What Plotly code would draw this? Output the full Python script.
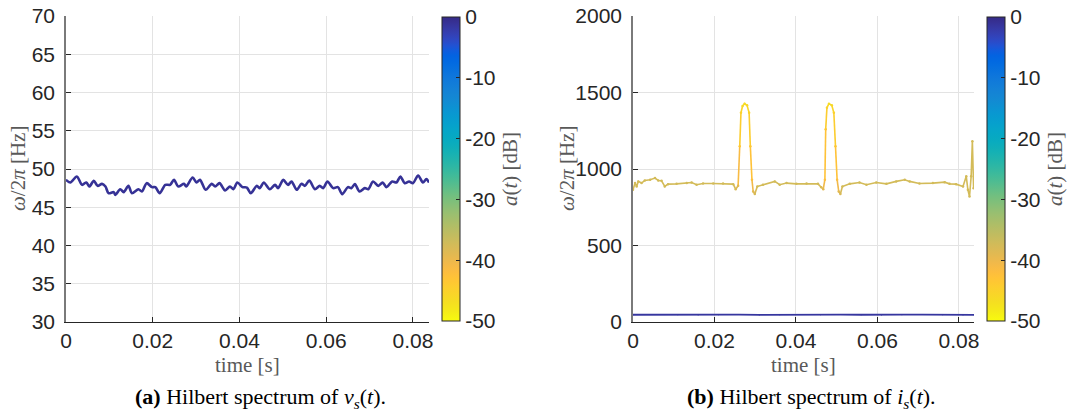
import plotly.graph_objects as go
from plotly.colors import sample_colorscale

# ---------------------------------------------------------------- data
# (a) instantaneous frequency of v_s(t)
v_time = [0.0000, 0.0010, 0.0025, 0.0037, 0.0047, 0.0054, 0.0064, 0.0073, 0.0083, 0.0091,
          0.0098, 0.0110, 0.0114, 0.0125, 0.0133, 0.0144, 0.0152, 0.0167, 0.0175, 0.0186,
          0.0198, 0.0206, 0.0216, 0.0229, 0.0240, 0.0249, 0.0259, 0.0272, 0.0277, 0.0292,
          0.0301, 0.0309, 0.0322, 0.0336, 0.0344, 0.0354, 0.0367, 0.0378, 0.0386, 0.0395,
          0.0407, 0.0417, 0.0426, 0.0440, 0.0447, 0.0456, 0.0470, 0.0482, 0.0489, 0.0501,
          0.0512, 0.0520, 0.0532, 0.0543, 0.0551, 0.0561, 0.0574, 0.0585, 0.0593, 0.0603,
          0.0616, 0.0627, 0.0637, 0.0650, 0.0658, 0.0666, 0.0677, 0.0689, 0.0697, 0.0708,
          0.0720, 0.0730, 0.0739, 0.0752, 0.0762, 0.0771, 0.0781, 0.0791, 0.0800, 0.0812,
          0.0823, 0.0831, 0.0837]
v_freq = [48.58, 48.24, 49.02, 47.93, 48.24, 47.71, 48.45, 47.80, 48.06, 47.71,
          46.84, 46.97, 46.62, 47.36, 46.97, 47.80, 46.84, 47.36, 47.06, 48.15,
          47.63, 47.63, 46.84, 47.93, 47.93, 48.58, 47.71, 48.06, 47.71, 48.89,
          48.24, 48.58, 47.28, 48.06, 47.71, 48.15, 47.19, 47.71, 47.36, 48.24,
          47.63, 47.58, 46.84, 47.80, 47.50, 48.24, 47.36, 47.93, 47.50, 48.58,
          47.93, 48.37, 47.28, 48.06, 47.80, 48.50, 47.36, 47.80, 47.50, 48.37,
          47.50, 47.63, 46.71, 47.63, 47.50, 48.02, 47.06, 47.50, 47.36, 48.37,
          47.80, 48.24, 47.63, 48.37, 48.24, 49.02, 48.15, 48.37, 48.15, 49.15,
          48.24, 48.67, 48.24]
v_amp = [-1.0] * len(v_time)

# (b) instantaneous frequency of i_s(t): fundamental component
i1_time = [0.0000, 0.0060, 0.0110, 0.0160, 0.0210, 0.0260, 0.0310, 0.0360, 0.0410,
           0.0460, 0.0510, 0.0560, 0.0610, 0.0660, 0.0710, 0.0760, 0.0810, 0.0837]
i1_freq = [47.5, 48.5, 47.0, 45.5, 47.5, 48.5, 46.5, 48.0, 48.5,
           47.0, 48.5, 47.5, 45.5, 48.0, 48.5, 47.0, 45.5, 47.0]
i1_amp = [-1.5] * len(i1_time)

# (b) instantaneous frequency of i_s(t): high-frequency component
i2_time = [0.0000, 0.0005, 0.0009, 0.0013, 0.0021, 0.0029, 0.0042, 0.0054, 0.0062, 0.0070,
           0.0078, 0.0086, 0.0107, 0.0132, 0.0144, 0.0156, 0.0172, 0.0197, 0.0221, 0.0246,
           0.0252, 0.0258, 0.0262, 0.0265, 0.0269, 0.0274, 0.0280, 0.0285, 0.0288, 0.0292,
           0.0295, 0.0299, 0.0305, 0.0319, 0.0348, 0.0360, 0.0377, 0.0401, 0.0426, 0.0454,
           0.0462, 0.0467, 0.0471, 0.0473, 0.0476, 0.0481, 0.0488, 0.0493, 0.0497, 0.0501,
           0.0505, 0.0509, 0.0514, 0.0532, 0.0556, 0.0573, 0.0597, 0.0622, 0.0646, 0.0667,
           0.0679, 0.0703, 0.0736, 0.0765, 0.0777, 0.0793, 0.0810, 0.0818, 0.0822, 0.0826,
           0.0830, 0.0833, 0.0836]
i2_freq = [864, 908, 886, 919, 908, 925, 930, 941, 925, 923,
           886, 901, 903, 908, 912, 897, 905, 905, 905, 901,
           868, 890, 1149, 1368, 1412, 1427, 1416, 1368, 1149, 930,
           853, 837, 886, 897, 919, 897, 908, 903, 905, 903,
           881, 868, 930, 1259, 1401, 1427, 1416, 1368, 1149, 930,
           853, 837, 886, 903, 912, 897, 912, 903, 919, 930,
           919, 905, 908, 914, 903, 901, 886, 952, 864, 820,
           952, 1182, 875]
i2_amp = [-37.5, -37.5, -37.5, -37.5, -37.5, -37.5, -37.5, -37.5, -37.5, -37.5,
          -37.5, -37.5, -37.5, -37.5, -37.5, -37.5, -37.5, -37.5, -37.5, -37.5,
          -38.0, -39.0, -43.5, -45.0, -46.0, -46.5, -46.0, -45.0, -43.5, -42.0,
          -39.0, -38.0, -37.5, -37.5, -37.5, -37.5, -37.5, -37.5, -37.5, -37.5,
          -38.0, -39.0, -42.0, -43.5, -45.0, -46.5, -46.0, -45.0, -43.5, -42.0,
          -39.0, -38.0, -37.5, -37.5, -37.5, -37.5, -37.5, -37.5, -37.5, -37.5,
          -37.5, -37.5, -37.5, -37.5, -37.5, -37.5, -37.5, -37.5, -37.5, -37.5,
          -37.5, -37.5, -37.5]

x_ticks = [0, 0.02, 0.04, 0.06, 0.08]
x_ticktext = ["0", "0.02", "0.04", "0.06", "0.08"]
y_ticks_a = [30, 35, 40, 45, 50, 55, 60, 65, 70]
y_ticks_b = [0, 500, 1000, 1500, 2000]
cb_ticks = [-50, -40, -30, -20, -10, 0]
cb_ticktext = ["-50", "-40", "-30", "-20", "-10", "0"]

# ---------------------------------------------------------------- style
PARULA = ['#352a87', '#363093', '#3637a0', '#353dad', '#3243ba', '#2c4ac7', '#2053d4', '#0f5cdd',
          '#0363e1', '#0268e1', '#046de0', '#0871de', '#0d75dc', '#1079da', '#127dd8', '#1481d6',
          '#1485d4', '#1389d3', '#108ed2', '#0c93d2', '#0998d1', '#079ccf', '#06a0cd', '#06a4ca',
          '#06a7c6', '#07a9c2', '#0aacbe', '#0faeb9', '#15b1b4', '#1db3af', '#25b5a9', '#2eb7a4',
          '#38b99e', '#42bb98', '#4dbc92', '#59bd8c', '#65be86', '#71bf80', '#7cbf7b', '#87bf77',
          '#92bf73', '#9cbf6f', '#a5be6b', '#aebe67', '#b7bd64', '#c0bc60', '#c8bc5d', '#d1bb59',
          '#d9ba56', '#e1b952', '#e9b94e', '#f1b94a', '#f8bb44', '#fdbe3d', '#ffc337', '#fec832',
          '#fcce2e', '#fad32a', '#f7d826', '#f5de21', '#f5e41d', '#f5eb18', '#f6f313', '#f9fb0e']
# -50 dB -> yellow, 0 dB -> dark blue
CSCALE = [[i / (len(PARULA) - 1), c] for i, c in enumerate(reversed(PARULA))]
CMIN, CMAX = -50, 0

W, H = 1069, 416
TICK_FONT = dict(family="Liberation Sans, Arial, sans-serif", size=21, color="#262626")
LABEL_FONT = dict(family="Liberation Serif, DejaVu Serif, serif", size=21, color="#595959")
CAPTION_FONT = dict(family="Liberation Serif, Times New Roman, serif", size=22, color="#000000")
AXIS_DARK = "#262626"
GRID = "#e3e3e3"

# plot boxes in pixels: (left, right) ; top/bottom shared
BOX_A = (66, 429)
BOX_B = (633, 974)
TOP, BOTTOM = 16, 322
CB_A = 442
CB_B = 987


def fx(px):
    return px / W


def fy(py):
    return 1 - py / H


def colour_of(a):
    return sample_colorscale(CSCALE, [(a - CMIN) / (CMAX - CMIN)])[0]


def coloured_line(t, f, amp, xa, ya, width, shape="linear"):
    """Split a curve into runs of equal colour so that it follows a(t)."""
    traces = []
    seg_cols = [colour_of(0.5 * (amp[k] + amp[k + 1])) for k in range(len(t) - 1)]
    start = 0
    for k in range(1, len(seg_cols) + 1):
        if k == len(seg_cols) or seg_cols[k] != seg_cols[start]:
            traces.append(go.Scatter(
                x=t[start:k + 1], y=f[start:k + 1], mode="lines",
                line=dict(color=seg_cols[start], width=width, shape=shape, smoothing=0.8),
                xaxis=xa, yaxis=ya, hoverinfo="skip", showlegend=False))
            start = k
    return traces


def amp_markers(t, f, amp, xa, ya, cax, size):
    return go.Scatter(
        x=t, y=f, mode="markers",
        marker=dict(color=amp, coloraxis=cax, size=size, line=dict(width=0)),
        xaxis=xa, yaxis=ya, hoverinfo="skip", showlegend=False)


fig = go.Figure()

# (a)
for tr in coloured_line(v_time, v_freq, v_amp, "x", "y", 2.6, shape="spline"):
    fig.add_trace(tr)
fig.add_trace(amp_markers(v_time, v_freq, v_amp, "x", "y", "coloraxis", 1))

# (b)
for tr in coloured_line(i1_time, i1_freq, i1_amp, "x2", "y2", 1.8):
    fig.add_trace(tr)
for tr in coloured_line(i2_time, i2_freq, i2_amp, "x2", "y2", 1.6):
    fig.add_trace(tr)
fig.add_trace(amp_markers(i2_time, i2_freq, i2_amp, "x2", "y2", "coloraxis2", 2.5))
fig.add_trace(amp_markers(i1_time, i1_freq, i1_amp, "x2", "y2", "coloraxis2", 1))


def x_axis(box, anchor):
    return dict(domain=[fx(box[0]), fx(box[1])], range=[0, 0.0837], anchor=anchor,
                tickvals=x_ticks, ticktext=x_ticktext, tickfont=TICK_FONT,
                showgrid=True, gridcolor=GRID, gridwidth=1, zeroline=False,
                ticks="inside", ticklen=5, tickcolor=AXIS_DARK, tickwidth=1,
                showline=True, linecolor=AXIS_DARK, linewidth=1,
                ticklabelstandoff=0, automargin=False)


def y_axis(rng, ticks, anchor):
    return dict(domain=[fy(BOTTOM), fy(TOP)], range=rng, tickvals=ticks,
                tickfont=TICK_FONT, anchor=anchor,
                showgrid=True, gridcolor=GRID, gridwidth=1, zeroline=False,
                ticks="inside", ticklen=5, tickcolor=AXIS_DARK, tickwidth=1,
                showline=True, linecolor="#7a7a7a", linewidth=1.5,
                ticklabelstandoff=5, automargin=False)


def colour_axis(cb_left):
    return dict(
        colorscale=CSCALE, cmin=CMIN, cmax=CMAX,
        colorbar=dict(
            x=fx(cb_left), xanchor="left", xpad=0, ypad=0,
            y=fy((TOP + BOTTOM) / 2), yanchor="middle",
            len=BOTTOM - TOP - 2, lenmode="pixels",
            thickness=18, thicknessmode="pixels",
            outlinecolor=AXIS_DARK, outlinewidth=1,
            ticks="inside", ticklen=4, tickcolor=AXIS_DARK,
            tickvals=cb_ticks, ticktext=cb_ticktext, tickfont=TICK_FONT,
            title=dict(text="<i>a</i>(<i>t</i>) [dB]", side="right", font=LABEL_FONT),
        ))


annotations = [
    dict(text="time [s]", x=fx(sum(BOX_A) / 2), y=fy(365), font=LABEL_FONT),
    dict(text="time [s]", x=fx(sum(BOX_B) / 2), y=fy(365), font=LABEL_FONT),
    dict(text="<i>ω</i>/2<i>π</i> [Hz]", x=fx(18), y=fy(169), textangle=-90, font=LABEL_FONT),
    dict(text="<i>ω</i>/2<i>π</i> [Hz]", x=fx(567), y=fy(169), textangle=-90, font=LABEL_FONT),
    dict(text="<b>(a)</b> Hilbert spectrum of <i>v<sub>s</sub></i>(<i>t</i>).",
         x=fx(260), y=fy(398), font=CAPTION_FONT),
    dict(text="<b>(b)</b> Hilbert spectrum of <i>i<sub>s</sub></i>(<i>t</i>).",
         x=fx(811), y=fy(398), font=CAPTION_FONT),
]
for a in annotations:
    a.update(xref="paper", yref="paper", showarrow=False, xanchor="center", yanchor="middle")

fig.update_layout(
    width=W, height=H, margin=dict(l=0, r=0, t=0, b=0, autoexpand=False),
    paper_bgcolor="white", plot_bgcolor="white",
    xaxis=x_axis(BOX_A, "y"), yaxis=y_axis([30, 70], y_ticks_a, "x"),
    xaxis2=x_axis(BOX_B, "y2"), yaxis2=y_axis([0, 2000], y_ticks_b, "x2"),
    coloraxis=colour_axis(CB_A), coloraxis2=colour_axis(CB_B),
    annotations=annotations, showlegend=False,
)

fig.write_html("out.html")
